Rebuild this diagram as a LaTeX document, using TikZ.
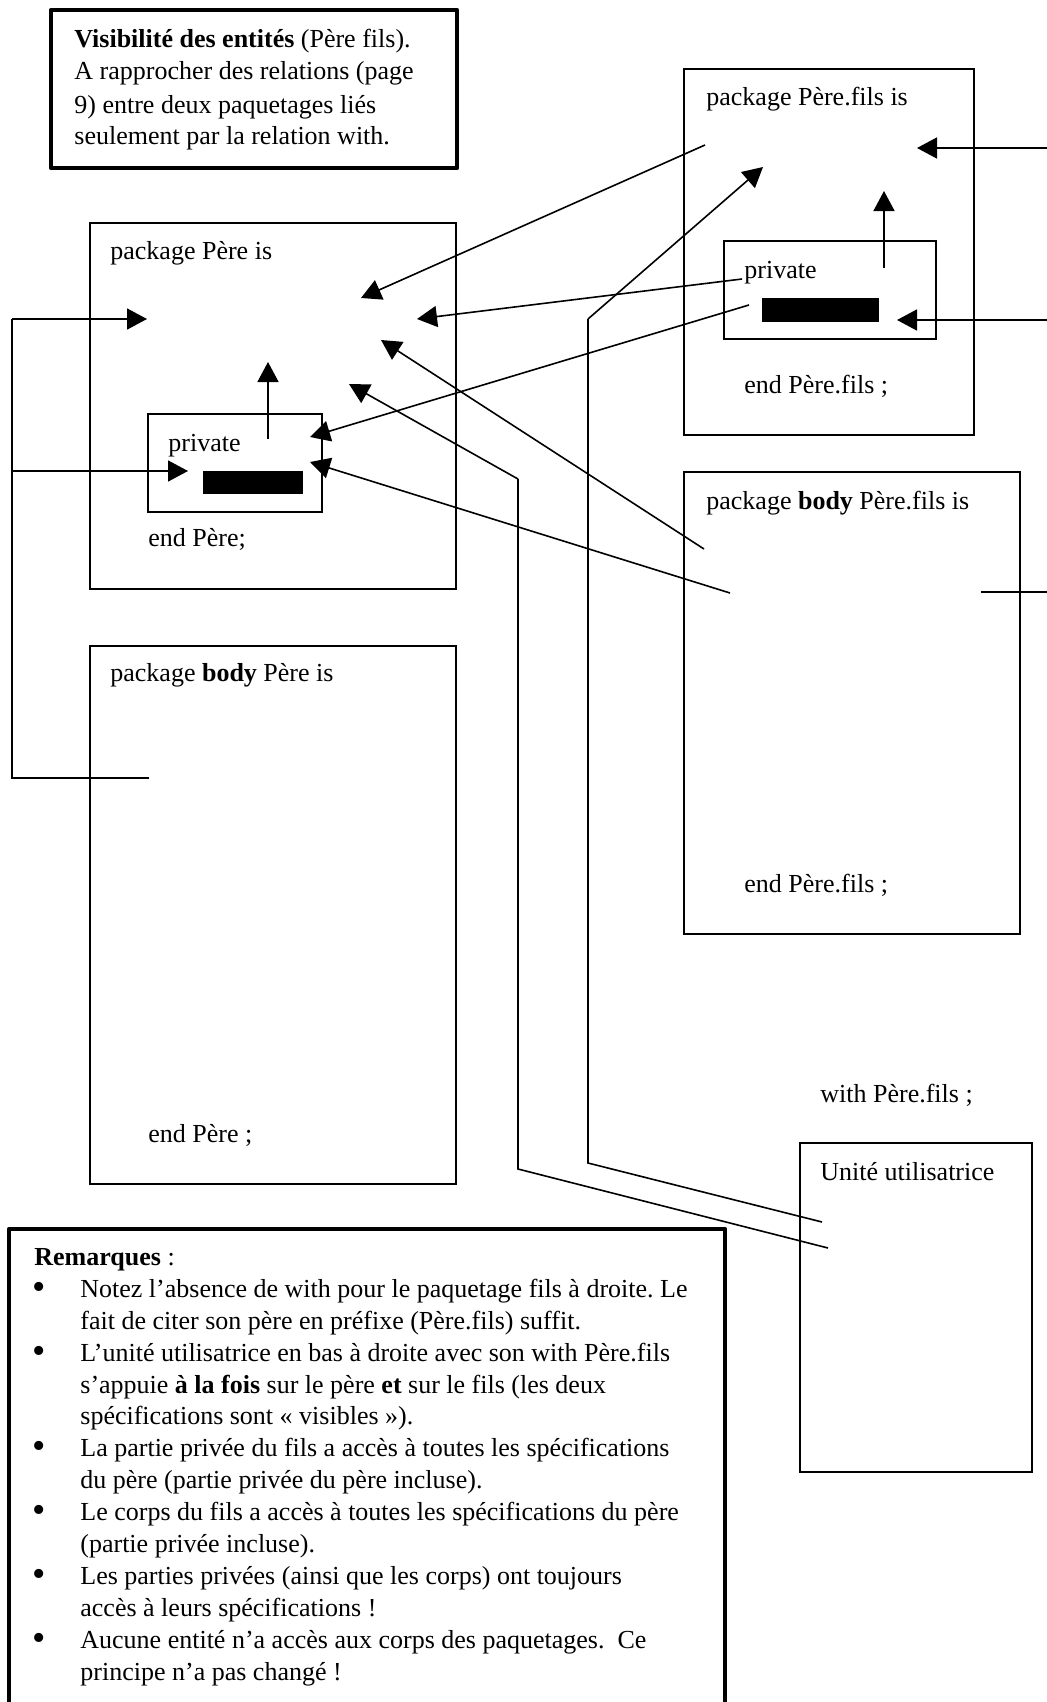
\documentclass[tikz,border=0pt]{standalone}
\usepackage{fontspec}
\setmainfont{Liberation Serif}
\usetikzlibrary{arrows.meta,fit}
\frenchspacing
\begin{document}
\begin{tikzpicture}[x=0.5pt,y=-0.5pt,
  box/.style={draw, line width=0.8pt, inner sep=0pt},
  thickbox/.style={draw, line width=2.1pt, inner sep=0pt, line join=round},
  bar/.style={fill=black, draw=none, inner sep=0pt},
  lbl/.style={anchor=base west, inner sep=0pt, font=\fontsize{13}{16}\selectfont},
  bul/.style={anchor=base west, inner sep=0pt, font=\fontsize{19}{16}\selectfont},
  arr/.style={line width=0.8pt, -{Triangle[length=10pt,width=10.5pt]}},
  ln/.style={line width=0.8pt},
]
\clip (0,0) rectangle (1047,1702);
\fill[white] (0,0) rectangle (1047,1702);

% ---- boxes
\node[thickbox, fit={(51,10) (457,168)}] (titlebox) {};
\node[box, fit={(684,69) (974,435)}] (filsspec) {};
\node[box, fit={(724,241) (936,339)}] (filspriv) {};
\node[bar, fit={(762,298) (879,322)}] (filsbar) {};
\node[box, fit={(90,223) (456,589)}] (perespec) {};
\node[box, fit={(148,414) (322,512)}] (perepriv) {};
\node[bar, fit={(203,471) (303,494)}] (perebar) {};
\node[box, fit={(684,472) (1020,934)}] (filsbody) {};
\node[box, fit={(90,646) (456,1184)}] (perebody) {};
\node[box, fit={(800,1143) (1032,1472)}] (unite) {};
\node[thickbox, fit={(9,1229) (725,1720)}] (remarques) {};

% ---- texts in boxes
\node[lbl] (t1) at (74,48) {\textbf{Visibilité des entités} (Père fils).};
\node[lbl] (t2) at (74,80) {A rapprocher des relations (page};
\node[lbl] (t3) at (74,113) {9) entre deux paquetages liés};
\node[lbl] (t4) at (74,145) {seulement par la relation with.};

\node[lbl] (fsTitle) at (706,105) {package Père.fils is};
\node[lbl] (fsPriv) at (744,278) {private};
\node[lbl] (fsEnd) at (744,393) {end Père.fils ;};

\node[lbl] (psTitle) at (110,259) {package Père is};
\node[lbl] (psPriv) at (168,451) {private};
\node[lbl] (psEnd) at (148,546) {end Père;};

\node[lbl] (fbTitle) at (706,509) {package \textbf{body} Père.fils is};
\node[lbl] (fbEnd) at (744,892) {end Père.fils ;};

\node[lbl] (pbTitle) at (110,681) {package \textbf{body} Père is};
\node[lbl] (pbEnd) at (148,1142) {end Père ;};

\node[lbl] (with) at (820,1102) {with Père.fils ;};
\node[lbl] (uTitle) at (820,1180) {Unité utilisatrice};

% ---- remarques
\node[lbl] (r0) at (34,1265) {\textbf{Remarques} :};
\node[bul] (b1) at (32,1299) {•};
\node[lbl] (r1) at (80,1297) {Notez l’absence de with pour le paquetage fils à droite. Le};
\node[lbl] (r2) at (80,1329) {fait de citer son père en préfixe (Père.fils) suffit.};
\node[bul] (b2) at (32,1363) {•};
\node[lbl] (r3) at (80,1361) {L’unité utilisatrice en bas à droite avec son with Père.fils};
\node[lbl] (r4) at (80,1393) {s’appuie \textbf{à la fois} sur le père \textbf{et} sur le fils (les deux};
\node[lbl] (r5) at (80,1424) {spécifications sont « visibles »).};
\node[bul] (b3) at (32,1458) {•};
\node[lbl] (r6) at (80,1456) {La partie privée du fils a accès à toutes les spécifications};
\node[lbl] (r7) at (80,1488) {du père (partie privée du père incluse).};
\node[bul] (b4) at (32,1522) {•};
\node[lbl] (r8) at (80,1520) {Le corps du fils a accès à toutes les spécifications du père};
\node[lbl] (r9) at (80,1552) {(partie privée incluse).};
\node[bul] (b5) at (32,1586) {•};
\node[lbl] (r10) at (80,1584) {Les parties privées (ainsi que les corps) ont toujours};
\node[lbl] (r11) at (80,1616) {accès à leurs spécifications !};
\node[bul] (b6) at (32,1650) {•};
\node[lbl] (r12) at (80,1648) {Aucune entité n’a accès aux corps des paquetages.\ \ Ce};
\node[lbl] (r13) at (80,1680) {principe n’a pas changé !};

% ---- coordinates
\coordinate (L0) at (12,319);
\coordinate (L1) at (12,471);
\coordinate (L2) at (12,778);
\coordinate (tipL0) at (147,319);
\coordinate (tipL1) at (188,471);
\coordinate (pbIn) at (149,778);

\coordinate (R0) at (1047,148);
\coordinate (R1) at (1047,320);
\coordinate (R2) at (1047,592);
\coordinate (tipR0) at (917,148);
\coordinate (tipR1) at (897,320);
\coordinate (fbOut) at (981,592);

\coordinate (fsUp0) at (884,268);
\coordinate (fsUp1) at (884,191);
\coordinate (psUp0) at (268,439);
\coordinate (psUp1) at (268,362);

\coordinate (fsA) at (705,145);
\coordinate (tipA) at (361,298);
\coordinate (fsB) at (742,279);
\coordinate (tipB) at (417,319);
\coordinate (fbC) at (704,549);
\coordinate (tipC) at (381,340);
\coordinate (fsE) at (749,305);
\coordinate (tipE) at (310,437);
\coordinate (fbF) at (730,593);
\coordinate (tipF) at (310,462);

\coordinate (uD) at (828,1248);
\coordinate (D1) at (518,1169);
\coordinate (D2) at (518,479);
\coordinate (tipD) at (349,384);
\coordinate (uG) at (822,1222);
\coordinate (G1) at (588,1163);
\coordinate (G2) at (588,319);
\coordinate (tipG) at (763,167);

% ---- connectors
\draw[ln] (pbIn) -- (L2) -- (L0);
\draw[arr] (L0) -- (tipL0);
\draw[arr] (L1) -- (tipL1);

\draw[arr] (R0) -- (tipR0);
\draw[arr] (R1) -- (tipR1);
\draw[ln] (R2) -- (fbOut);

\draw[arr] (fsUp0) -- (fsUp1);
\draw[arr] (psUp0) -- (psUp1);

\draw[arr] (fsA) -- (tipA);
\draw[arr] (fsB) -- (tipB);
\draw[arr] (fbC) -- (tipC);
\draw[arr] (fsE) -- (tipE);
\draw[arr] (fbF) -- (tipF);

\draw[ln, line join=miter] (uD) -- (D1) -- (D2);
\draw[arr] (D2) -- (tipD);
\draw[ln, line join=miter] (uG) -- (G1) -- (G2);
\draw[arr] (G2) -- (tipG);
\end{tikzpicture}
\end{document}
